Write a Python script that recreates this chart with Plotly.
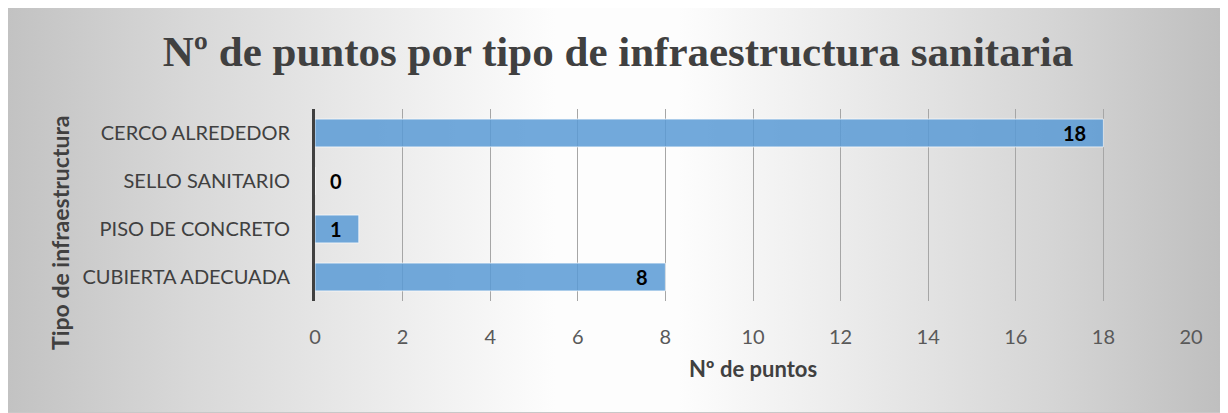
import base64
import plotly.graph_objects as go

# Data
categorias = ["CUBIERTA ADECUADA", "PISO DE CONCRETO", "SELLO SANITARIO", "CERCO ALREDEDOR"]
puntos = [8, 1, 0, 18]
x_ticks = [0, 2, 4, 6, 8, 10, 12, 14, 16, 18, 20]

# page has an 8px body margin, so the figure is a bit smaller than the window
OFF = 8
W, H = 1228 - OFF, 413 - OFF
m_l, m_r, m_t, m_b = 315 - OFF, 37, 109 - OFF, 112
pw, ph = W - m_l - m_r, H - m_t - m_b

# Excel style gradient background (grey sides, white middle) as svg image
svg = ('<svg xmlns="http://www.w3.org/2000/svg" width="1222" height="406" preserveAspectRatio="none">'
       '<defs><linearGradient id="g" x1="0" y1="0" x2="1" y2="0">'
       '<stop offset="0" stop-color="#c2c2c2"/><stop offset="0.15" stop-color="#d8d8d8"/>'
       '<stop offset="0.45" stop-color="#fdfdfd"/><stop offset="0.55" stop-color="#fdfdfd"/>'
       '<stop offset="0.85" stop-color="#d6d6d6"/><stop offset="1" stop-color="#bebebe"/>'
       '</linearGradient></defs>'
       '<rect width="1222" height="406" fill="url(#g)"/></svg>')
bg_src = "data:image/svg+xml;base64," + base64.b64encode(svg.encode()).decode()

def px_x(p):
    return (p - OFF - m_l) / pw

def px_y(p):
    return (H - m_b - (p - OFF)) / ph

fig = go.Figure()
fig.add_trace(go.Bar(
    y=categorias, x=puntos, orientation="h",
    marker=dict(color="rgba(91,155,213,0.86)", line=dict(color="rgba(255,255,255,0.7)", width=1)),
    width=0.58,
    cliponaxis=False,
))

# data labels, "inside end" like Excel
etiquetas = []
for cat, v in zip(categorias, puntos):
    etiquetas.append(dict(
        x=v, y=cat, xref="x", yref="y", text="<b>%d</b>" % v, showarrow=False,
        xanchor="right" if v > 0 else "center", xshift=-15 if v > 0 else 21,
        font=dict(family="Lato", size=20, color="#000000"),
    ))

etiquetas.append(dict(
    text="<b>Tipo de infraestructura</b>", textangle=-90, showarrow=False,
    xref="paper", yref="paper", x=px_x(60), y=px_y(233),
    xanchor="center", yanchor="middle",
    font=dict(family="Lato", size=23, color="#404040"),
))

fig.update_layout(
    width=W, height=H,
    margin=dict(l=m_l, r=m_r, t=m_t, b=m_b),
    paper_bgcolor="#ffffff",
    plot_bgcolor="rgba(0,0,0,0)",
    showlegend=False,
    title=dict(text="<b>Nº de puntos por tipo de infraestructura sanitaria</b>",
               x=0.5, xref="container", xanchor="center", y=1 - (51 - OFF) / H, yanchor="middle",
               font=dict(family="Liberation Serif", size=43, color="#404040")),
    images=[dict(source=bg_src, xref="paper", yref="paper",
                 x=px_x(6), y=px_y(7), sizex=(1228 - 6) / pw, sizey=(413 - 7) / ph,
                 xanchor="left", yanchor="top", sizing="stretch", layer="below")],
    shapes=[dict(type="rect", xref="paper", yref="paper",
                 x0=px_x(6), x1=px_x(1227.5), y0=px_y(412.5), y1=px_y(7),
                 line=dict(color="#c8c8c8", width=1), layer="below")],
    annotations=etiquetas,
)

fig.update_xaxes(
    range=[0, 20], tickvals=x_ticks,
    showgrid=True, gridcolor="#a6a6a6", gridwidth=1.3, zeroline=False,
    tickfont=dict(family="Lato", size=20, color="#595959"),
    ticklabelstandoff=22,
    title=dict(text="<b>Nº de puntos</b>", standoff=14,
               font=dict(family="Lato", size=22, color="#404040")),
)
fig.update_yaxes(
    showline=True, linecolor="#404040", linewidth=3,
    showgrid=False,
    tickfont=dict(family="Lato", size=20, color="#404040"),
    ticklabelstandoff=18,
)

fig.write_html("out.html")
